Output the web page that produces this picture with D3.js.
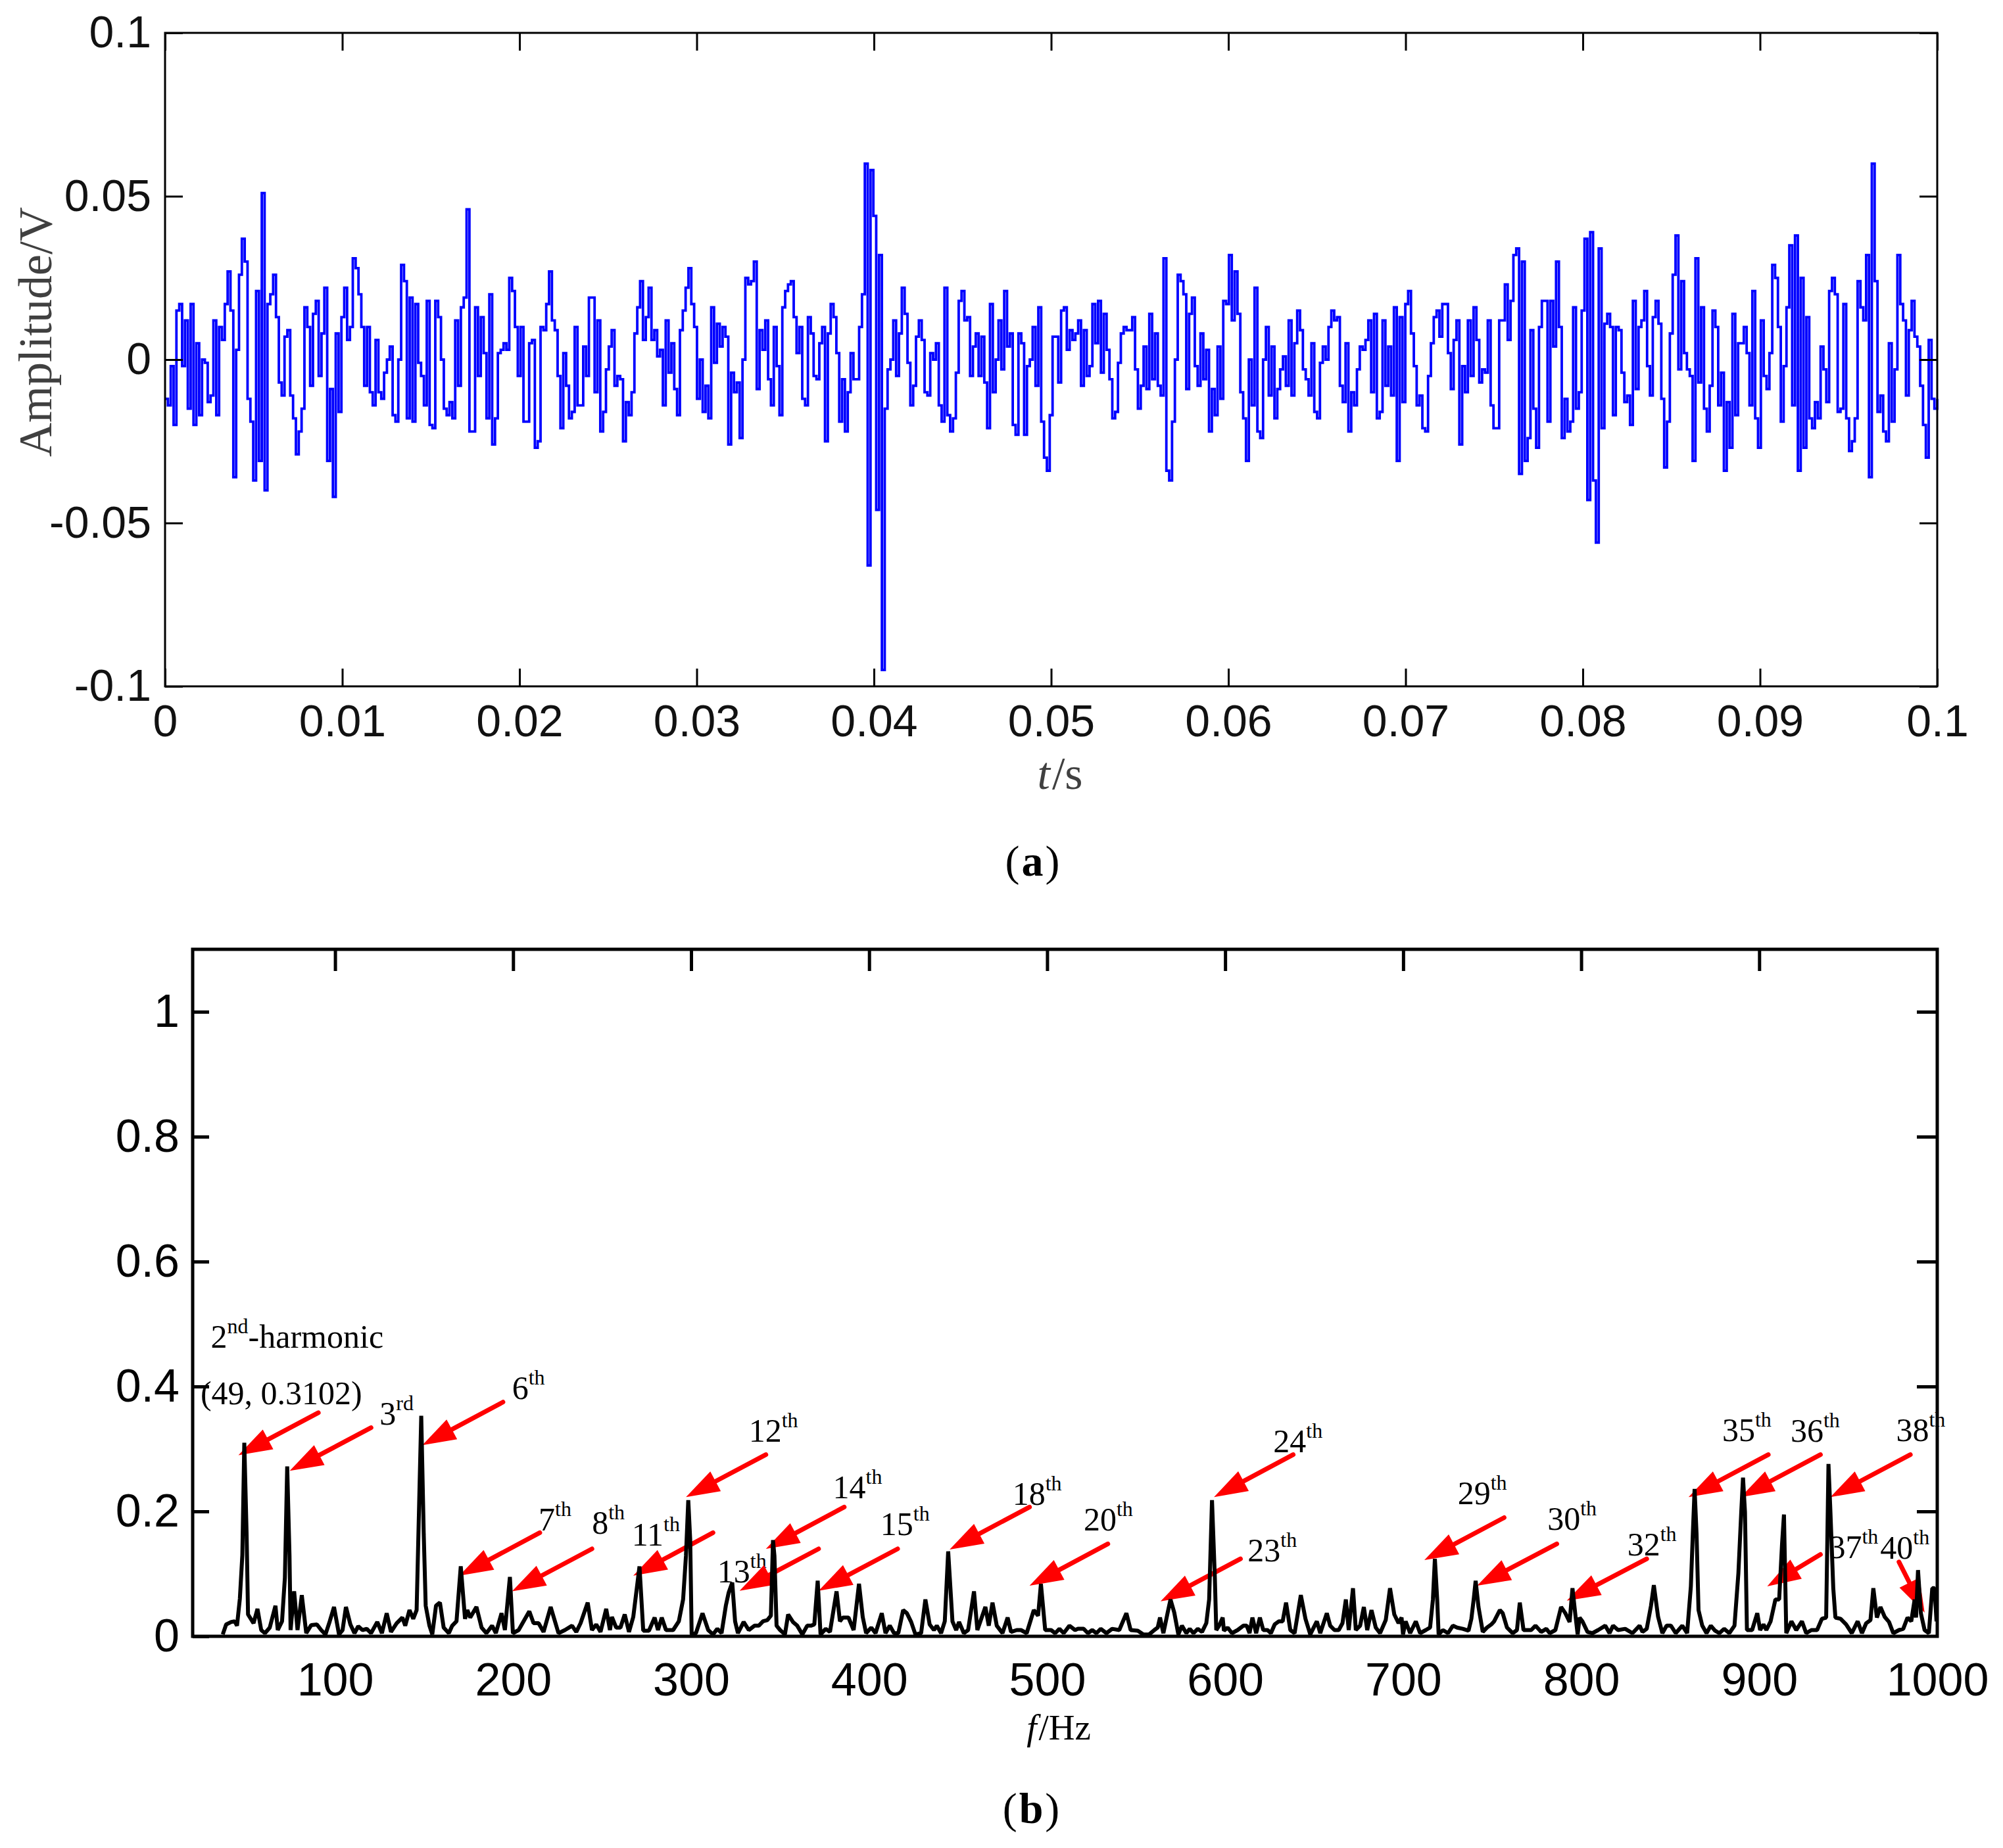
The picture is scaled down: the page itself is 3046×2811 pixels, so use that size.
<!DOCTYPE html>
<html lang="en">
<head>
<meta charset="UTF-8">
<title>Signal and harmonic spectrum</title>
<script src="https://cdn.jsdelivr.net/npm/d3@7"></script>
<style>
  body { margin: 0; background: #fff; }
  svg { display: block; }
</style>
</head>
<body>
<div id="main"></div>
<script>
// (a) time signal, in mV (stair plot, about 6.2 kHz)
const sigPart1 = [
  -12,-14,-2,-20,15,17,-2,12,-15,17,
  -20,5,-17,0,-1,-13,-11,12,-17,10,
  6,17,27,15,-36,3,26,37,30,-12,
  -19,-37,21,-31,51,-40,17,20,26,13,
  -7,-11,7,9,-11,-18,-29,-22,-15,16,
  10,-8,14,18,-5,8,22,-31,-9,-42,
  8,-16,13,22,6,10,31,28,20,10,
  -8,10,-10,-14,6,-10,-12,-4,0,4,
  -17,-19,0,29,24,-18,19,-19,17,-1,
  -5,-14,18,-20,-21,18,13,0,-15,-17,
  -13,-18,12,-8,16,19,46,-22,-22,16,
  -5,13,2,-18,20,-26,-18,2,3,5,
  3,25,21,10,-5,10,-19,-19,5,6,
  -27,-25,10,9,17,27,12,9,-5,-21,
  2,-8,-18,-16,10,-14,-14,4,-5,19,
  19,-10,12,-22,-16,-3,4
];
const sigPart2 = [
  9,-8,-5,-6,-25,-13,-17,-10,8,16,
  24,6,13,22,6,9,1,3,-14,12,
  -4,5,-9,-17,9,15,22,28,17,10,
  -12,0,-16,-8,-18,16,-1,11,4,10,
  7,-26,-4,-10,-7,-24,0,25,23,24,
  30,-9,9,3,12,-6,-14,10,-2,-17,
  16,21,23,24,13,2,10,-12,-14,13,
  8,-5,-6,5,10,-25,8,17,13,2,
  -19,-6,-22,-10,2,-6,-6,10,20,
  60,-63,58,44,-46,32,-95,
  -15,-3,0,12,
  -5,8,22,14,-1,-14,-8,7,12,6,
  -10,-11,2,0,5,-14,-19,22,-17,-22,
  -18,-4,18,21,12,13,-5,4,8,-5,
  7,-7,-21,17,-10,0,12,-3,21,4,
  8,-20,-23,8,5,-23,-2,0,10,-8,
  16,-19,-30,-34,-17,7
];
const sigPart3 = [
  7,-7,15,16,3,9,6,8,12,-8,
  9,-5,-2,17,5,18,-4,14,3,-6,
  -18,-16,-1,8,10,9,9,13,-3,-15,
  -8,4,-9,14,-6,8,-8,-11,31,-34,
  -37,-19,0,26,24,20,-9,14,19,-2,
  -8,8,-6,3,-22,-9,-17,4,-12,18,
  17,32,12,27,14,-10,-18,-31,0,-14,
  22,-22,-24,0,10,-11,4,-18,-9,-3,
  1,-8,12,-11,5,15,9,-3,-6,-11,
  5,-16,-18,-1,4,0,10,15,12,13,
  -8,-13,5,-22,-10,-14,-3,4,3,6,
  12,-10,14,-18,-16,12,-8,4,-11,16,
  -31,13,-13,17,21,8,-2,-14,-11,-21,
  -22,-5,5,13,15,7,17,17,2,-9,
  6,12,-26,-2,-10,12,-5,16,6,-7,
  -3,-4,12,-14,-21
];
const sigPart4 = [
  -21,12,12,23,6,18,32,34,-35,30,
  -31,-24,9,-15,-27,10,18,18,-19,18,
  4,30,10,-24,-12,-22,-19,16,-15,-10,
  15,37,-43,39,-37,-56,34,-21,11,14,
  10,-17,10,9,-4,-13,-11,-20,18,-9,
  10,12,21,-2,-11,13,18,11,-12,-33,
  -19,8,26,38,-3,24,2,-3,-5,-31,
  31,-7,16,-15,-22,-8,15,10,-14,-4,
  -34,-13,-27,14,-17,5,5,10,2,-14,
  21,-18,-27,12,-5,-9,2,29,25,10,
  -19,-2,16,35,-14,38,-34,25,-27,13,
  -18,-21,-13,-18,4,-3,-13,21,25,20,
  -16,-15,17,-18,-28,-25,-18,24,16,12,
  32,-36,60,24,-16,-11,-22,-25,5,-19,
  -3,32,17,12,-11,9,18,7,4,-8,
  -20,-30,6,-12,-15,-12
];
const signalMv = sigPart1.concat(sigPart2, sigPart3, sigPart4);
const recordLength = 0.1; // s

const tTicks = [0, 0.01, 0.02, 0.03, 0.04, 0.05, 0.06, 0.07, 0.08, 0.09, 0.1];
const tTickLabels = ["0", "0.01", "0.02", "0.03", "0.04", "0.05", "0.06", "0.07", "0.08", "0.09", "0.1"];
const vTicks = [-0.1, -0.05, 0, 0.05, 0.1];
const vTickLabels = ["-0.1", "-0.05", "0", "0.05", "0.1"];

// (b) spectrum vertices
const specHz = [
  36.9,38.8,41.7,43.6,44.9,46.5,47.9,49.0,50.3,51.1,54.2,56.4,58.5,60.6,63.3,66.5,67.8,70.2,71.8,73.1,
  74.4,75.0,77.0,78.9,81.3,83.8,86.6,89.8,92.2,94.6,97.0,99.4,102.2,104.2,106.1,108.6,110.9,113.0,115.4,117.8,
  120.2,123.7,126.3,129.0,131.4,134.6,137.8,139.4,141.8,143.9,145.8,147.4,148.4,149.8,150.9,153.0,154.6,156.7,158.9,161.0,
  163.9,165.8,168.2,170.6,173.0,174.3,175.9,179.4,182.3,185.0,188.2,190.3,193.5,195.4,198.2,199.9,203.1,206.3,209.1,211.5,
  214.3,217.1,221.1,225.5,229.1,233.1,235.5,237.9,241.9,244.3,246.7,249.1,252.3,254.4,255.5,257.9,260.3,262.7,265.1,267.5,
  271.0,273.1,276.3,279.5,281.4,283.5,285.9,289.9,293.1,295.5,297.1,298.4,299.5,300.3,302.7,306.4,309.6,312.3,314.7,317.1,
  319.5,321.1,323.1,324.7,326.3,329.5,332.4,335.6,338.0,340.4,342.8,344.8,346.0,346.8,348.0,350.0,352.7,354.5,357.2,359.6,
  362.5,365.2,367.3,369.2,371.1,372.7,375.6,378.0,381.7,383.6,385.2,388.4,391.3,394.3,396.4,398.3,401.2,403.6,407.1,409.2,
  411.6,414.0,416.4,419.1,421.2,423.6,426.0,429.2,431.6,434.0,436.4,438.0,440.4,442.5,444.4,446.8,448.9,450.5,453.2,455.6,
  458.9,460.8,465.3,467.2,469.3,471.7,474.9,477.8,479.7,482.9,485.3,488.5,492.5,494.9,496.5,498.9,502.2,504.5,506.9,509.3,
  512.5,515.7,517.3,520.5,522.9,525.3,527.7,530.1,533.3,536.5,540.5,544.5,546.9,550.9,554.1,557.3,560.2,562.1,563.4,565.3,
  567.7,569.3,571.4,573.7,575.7,578.2,580.1,582.2,584.6,587.0,589.4,591.0,592.6,594.2,595.0,596.6,598.6,599.3,601.4,603.8,
  607.0,610.2,612.1,613.7,615.3,617.4,619.5,621.4,623.8,625.7,627.8,630.2,632.3,634.2,636.6,639.0,642.5,645.1,647.8,651.5,
  653.4,657.1,659.0,661.4,663.8,665.9,667.8,669.4,671.8,673.4,675.8,677.9,679.8,682.2,684.6,687.0,690.2,692.6,695.0,697.4,
  699.1,699.9,701.4,703.9,707.1,709.5,712.7,715.1,716.7,717.8,719.1,719.9,722.3,725.2,727.9,730.3,733.5,736.7,738.3,739.6,
  740.7,742.3,744.7,747.1,749.5,751.1,754.3,755.9,758.3,761.5,763.9,765.5,767.6,771.9,774.3,777.5,780.4,782.3,785.5,788.7,
  791.1,793.5,795.1,796.7,798.0,799.1,800.7,803.5,806.3,809.5,813.5,815.9,817.9,820.7,824.7,828.8,832.8,834.4,836.8,839.2,
  840.8,843.2,845.6,848.0,850.4,853.1,856.8,859.5,861.6,862.7,863.7,864.8,865.9,868.0,870.4,872.8,875.2,877.6,880.3,883.2,
  886.1,888.3,889.9,890.9,892.0,893.1,896.0,898.9,900.5,902.4,904.0,906.4,909.1,911.2,912.8,913.9,915.2,918.1,920.8,924.0,
  926.4,929.3,932.5,935.2,937.6,938.9,940.0,941.6,942.8,945.7,948.8,952.0,955.3,957.7,960.1,962.5,964.1,966.1,968.1,970.5,
  972.9,975.3,978.5,980.9,983.3,985.4,987.3,988.1,989.2,990.8,992.9,995.3,997.2,998.5,999.6
];
const specAmp = [
  .003,.019,.023,.024,.017,.060,.130,.310,.164,.035,.021,.044,.010,.005,.014,.049,.010,.024,.094,.272,
  .129,.010,.072,.010,.066,.005,.018,.019,.010,.003,.024,.047,.003,.010,.047,.019,.005,.016,.010,.012,
  .005,.023,.005,.037,.007,.021,.030,.017,.042,.028,.042,.234,.353,.164,.049,.017,.003,.049,.054,.014,
  .005,.017,.024,.112,.028,.042,.030,.047,.014,.005,.017,.005,.037,.010,.095,.005,.010,.026,.040,.021,
  .021,.007,.047,.005,.010,.017,.007,.021,.054,.010,.019,.007,.044,.010,.031,.014,.014,.035,.007,.031,
  .112,.009,.009,.030,.010,.030,.010,.010,.024,.059,.129,.218,.154,.003,.005,.037,.010,.003,.012,.005,
  .049,.070,.086,.024,.005,.023,.010,.017,.017,.024,.026,.033,.154,.129,.017,.010,.003,.035,.023,.017,
  .003,.017,.017,.019,.089,.003,.012,.007,.072,.024,.030,.030,.010,.084,.031,.005,.014,.005,.037,.005,
  .017,.005,.005,.042,.037,.023,.003,.005,.059,.019,.010,.017,.005,.024,.136,.024,.010,.023,.005,.010,
  .072,.010,.047,.017,.054,.017,.005,.030,.007,.010,.010,.005,.042,.033,.084,.010,.010,.005,.012,.005,
  .017,.010,.012,.012,.005,.010,.005,.012,.005,.012,.010,.037,.010,.009,.003,.003,.010,.014,.030,.005,
  .038,.059,.038,.003,.017,.005,.012,.005,.012,.007,.021,.059,.218,.094,.010,.017,.030,.009,.014,.005,
  .010,.017,.017,.005,.030,.005,.030,.010,.010,.005,.019,.024,.024,.054,.010,.005,.066,.028,.003,.024,
  .005,.037,.017,.010,.010,.021,.059,.010,.077,.010,.017,.047,.010,.042,.014,.005,.026,.077,.035,.021,
  .030,.003,.024,.005,.024,.005,.010,.014,.059,.124,.059,.003,.010,.005,.017,.014,.012,.009,.028,.059,
  .089,.047,.007,.014,.019,.024,.042,.037,.014,.005,.010,.054,.010,.010,.017,.007,.012,.005,.010,.047,
  .037,.023,.077,.035,.003,.030,.024,.007,.005,.010,.017,.005,.017,.010,.012,.005,.017,.007,.012,.049,
  .082,.031,.005,.017,.017,.005,.017,.005,.080,.164,.236,.164,.042,.017,.005,.017,.009,.005,.012,.005,
  .017,.101,.199,.254,.199,.010,.010,.037,.010,.019,.010,.024,.059,.059,.147,.195,.005,.024,.010,.024,
  .005,.010,.010,.028,.030,.276,.199,.077,.030,.028,.019,.005,.024,.005,.021,.026,.077,.030,.047,.031,
  .023,.005,.010,.012,.030,.024,.059,.030,.106,.037,.010,.005,.077,.077,.024
];

const fTicks = [100, 200, 300, 400, 500, 600, 700, 800, 900, 1000];
const fTickLabels = ["100", "200", "300", "400", "500", "600", "700", "800", "900", "1000"];
const aTicks = [0, 0.2, 0.4, 0.6, 0.8, 1];
const aTickLabels = ["0", "0.2", "0.4", "0.6", "0.8", "1"];

// harmonic annotations: label start / baseline, arrow tail and tip (Hz, amplitude)
const harmNum = ["2","3","6","7","8","11","12","13","14","15","18","20","23","24","29","30","32","35","36","37","38","40"];
const harmSup = ["nd","rd","th","th","th","th","th","th","th","th","th","th","th","th","th","th","th","th","th","th","th","th"];
const labelHz = [30.2,125.0,199.4,214.3,244.3,266.7,332.4,314.7,379.6,406.3,480.5,520.5,612.6,627.0,730.6,781.0,825.9,879.2,917.6,939.2,976.9,968.0];
const labelAmp = [0.4625,0.339,0.380,0.169,0.164,0.145,0.312,0.086,0.221,0.162,0.211,0.169,0.120,0.295,0.212,0.171,0.129,0.313,0.312,0.125,0.313,0.124];
const tailHz = [90.6,120.2,194.3,215.0,244.3,312.3,342.0,371.6,386.0,416.0,490.1,534.1,608.6,638.2,756.7,786.3,836.8,905.1,934.4,934.4,984.9,978.5];
const tailAmp = [0.358,0.334,0.375,0.166,0.140,0.166,0.291,0.140,0.207,0.140,0.207,0.148,0.124,0.291,0.190,0.148,0.124,0.291,0.291,0.131,0.291,0.119];
const tipHz = [45.7,74.5,149.0,169.8,199.4,267.5,297.1,327.2,342.0,371.6,445.2,490.1,563.7,593.7,711.9,741.5,791.9,860.3,889.6,904.5,940.0,992.9];
const tipAmp = [0.290,0.265,0.306,0.097,0.072,0.097,0.223,0.073,0.140,0.073,0.139,0.081,0.056,0.223,0.122,0.081,0.057,0.223,0.223,0.080,0.223,0.038];
const peakNote = "(49, 0.3102)";
const peakNoteHz = 24.4, peakNoteAmp = 0.372;

const W = 3046, H = 2811;
const SANS = "'Liberation Sans', Arial, sans-serif";
const SERIF = "'Liberation Serif', 'Times New Roman', serif";

const svg = d3.select("#main").append("svg")
  .attr("width", W)
  .attr("height", H)
  .style("background", "#fff");

function styleAxis(g, size, color, sw) {
  g.attr("font-family", SANS).attr("font-size", size);
  g.select(".domain").remove();
  g.selectAll(".tick line").attr("stroke", "#000").attr("stroke-width", sw);
  g.selectAll(".tick text").attr("fill", color);
}

// a centred caption made of pieces (plain / italic / bold), laid side by side
function caption(parent, cx, y, size, color, pieces) {
  const g = parent.append("g");
  const nodes = pieces.map(p => g.append("text")
    .attr("y", y)
    .attr("font-family", SERIF).attr("font-size", size).attr("fill", color)
    .attr("font-style", p.italic ? "italic" : null)
    .attr("font-weight", p.bold ? "bold" : null)
    .text(p.text));
  const gap = 3;
  const widths = nodes.map(n => n.node().getComputedTextLength());
  let x = cx - (d3.sum(widths) + gap * (nodes.length - 1)) / 2;
  nodes.forEach((n, i) => { n.attr("x", x); x += widths[i] + gap; });
}

// ---------- panel (a) ----------
const xA = d3.scaleLinear().domain([0, recordLength]).range([251, 2946]);
const yA = d3.scaleLinear().domain([-0.1, 0.1]).range([1044, 50]);
const dt = recordLength / (signalMv.length - 1);

const gA = svg.append("g");

gA.append("path")
  .datum(signalMv)
  .attr("fill", "none")
  .attr("stroke", "#0000ff")
  .attr("stroke-width", 3.8)
  .attr("d", d3.line()
    .x((d, i) => xA(i * dt))
    .y(d => yA(d / 1000))
    .curve(d3.curveStepAfter));

gA.append("g").attr("transform", "translate(0,1044)")
  .call(d3.axisBottom(xA).tickValues(tTicks).tickFormat((d, i) => tTickLabels[i])
    .tickSizeInner(-27).tickSizeOuter(0).tickPadding(28))
  .call(g => styleAxis(g, 68, "#111", 3));
gA.append("g").attr("transform", "translate(0,50)")
  .call(d3.axisTop(xA).tickValues(tTicks).tickFormat("").tickSizeInner(-27).tickSizeOuter(0))
  .call(g => styleAxis(g, 68, "#111", 3));
gA.append("g").attr("transform", "translate(251,0)")
  .call(d3.axisLeft(yA).tickValues(vTicks).tickFormat((d, i) => vTickLabels[i])
    .tickSizeInner(-27).tickSizeOuter(0).tickPadding(21))
  .call(g => styleAxis(g, 68, "#111", 3));
gA.append("g").attr("transform", "translate(2946,0)")
  .call(d3.axisRight(yA).tickValues(vTicks).tickFormat("").tickSizeInner(-27).tickSizeOuter(0))
  .call(g => styleAxis(g, 68, "#111", 3));

gA.append("rect")
  .attr("x", 251).attr("y", 50).attr("width", 2946 - 251).attr("height", 1044 - 50)
  .attr("fill", "none").attr("stroke", "#000").attr("stroke-width", 3);

gA.append("text")
  .attr("transform", "translate(53,505) rotate(-90)")
  .attr("dy", "0.35em")
  .attr("text-anchor", "middle")
  .attr("font-family", SERIF).attr("font-size", 72).attr("fill", "#404040")
  .text("Amplitude/V");

caption(gA, 1612, 1200, 70, "#404040", [{ text: "t", italic: true }, { text: "/s" }]);
caption(svg, 1570, 1332, 66, "#000", [{ text: "(" }, { text: "a", bold: true }, { text: ")" }]);

// ---------- panel (b) ----------
const xB = d3.scaleLinear().domain([20, 1000]).range([293, 2946]);
const yB = d3.scaleLinear().domain([0, 1.1]).range([2489, 1444]);

const gB = svg.append("g");

gB.append("g").attr("transform", "translate(0,2489)")
  .call(d3.axisBottom(xB).tickValues(fTicks).tickFormat((d, i) => fTickLabels[i])
    .tickSizeInner(0).tickSizeOuter(0).tickPadding(40))
  .call(g => styleAxis(g, 70, "#000", 5));
gB.append("g").attr("transform", "translate(0,1444)")
  .call(d3.axisTop(xB).tickValues(fTicks.slice(0, -1)).tickFormat("").tickSizeInner(-33).tickSizeOuter(0))
  .call(g => styleAxis(g, 70, "#000", 5));
gB.append("g").attr("transform", "translate(293,0)")
  .call(d3.axisLeft(yB).tickValues(aTicks).tickFormat((d, i) => aTickLabels[i])
    .tickSizeInner(-25).tickSizeOuter(0).tickPadding(20))
  .call(g => styleAxis(g, 70, "#000", 5));
gB.append("g").attr("transform", "translate(2946,0)")
  .call(d3.axisRight(yB).tickValues(aTicks.slice(1)).tickFormat("").tickSizeInner(-31).tickSizeOuter(0))
  .call(g => styleAxis(g, 70, "#000", 5));

// harmonic labels
const labels = gB.append("g")
  .attr("font-family", SERIF).attr("font-size", 50).attr("fill", "#000");
harmNum.forEach((n, i) => {
  const t = labels.append("text")
    .attr("x", xB(labelHz[i])).attr("y", yB(labelAmp[i]));
  t.append("tspan").text(n);
  t.append("tspan").attr("font-size", 32).attr("dy", -22).text(harmSup[i]);
  if (i === 0) t.append("tspan").attr("dy", 22).text("-harmonic");
});
labels.append("text")
  .attr("x", xB(peakNoteHz)).attr("y", yB(peakNoteAmp))
  .text(peakNote);

// red arrows
const arrows = gB.append("g");
const headLen = 51, headHalf = 17;
harmNum.forEach((n, i) => {
  const x0 = xB(tailHz[i]), y0 = yB(tailAmp[i]);
  const x1 = xB(tipHz[i]), y1 = yB(tipAmp[i]);
  const len = Math.hypot(x1 - x0, y1 - y0);
  const ux = (x1 - x0) / len, uy = (y1 - y0) / len;
  const bx = x1 - ux * headLen, by = y1 - uy * headLen;
  arrows.append("line")
    .attr("x1", x0).attr("y1", y0)
    .attr("x2", bx + ux * 6).attr("y2", by + uy * 6)
    .attr("stroke", "#ff0000").attr("stroke-width", 7).attr("stroke-linecap", "round");
  arrows.append("polygon")
    .attr("points", [[x1, y1], [bx - uy * headHalf, by + ux * headHalf], [bx + uy * headHalf, by - ux * headHalf]].map(p => p.join(",")).join(" "))
    .attr("fill", "#ff0000");
});

// spectrum line
gB.append("path")
  .datum(specHz.map((f, i) => [f, specAmp[i]]))
  .attr("fill", "none")
  .attr("stroke", "#000")
  .attr("stroke-width", 6)
  .attr("stroke-linejoin", "bevel")
  .attr("d", d3.line().x(d => xB(d[0])).y(d => yB(d[1])));

gB.append("rect")
  .attr("x", 293).attr("y", 1444).attr("width", 2946 - 293).attr("height", 2489 - 1444)
  .attr("fill", "none").attr("stroke", "#000").attr("stroke-width", 5);

caption(gB, 1610, 2646, 55, "#000", [{ text: "f", italic: true }, { text: "/Hz" }]);
caption(svg, 1568, 2773, 66, "#000", [{ text: "(" }, { text: "b", bold: true }, { text: ")" }]);
</script>
</body>
</html>
